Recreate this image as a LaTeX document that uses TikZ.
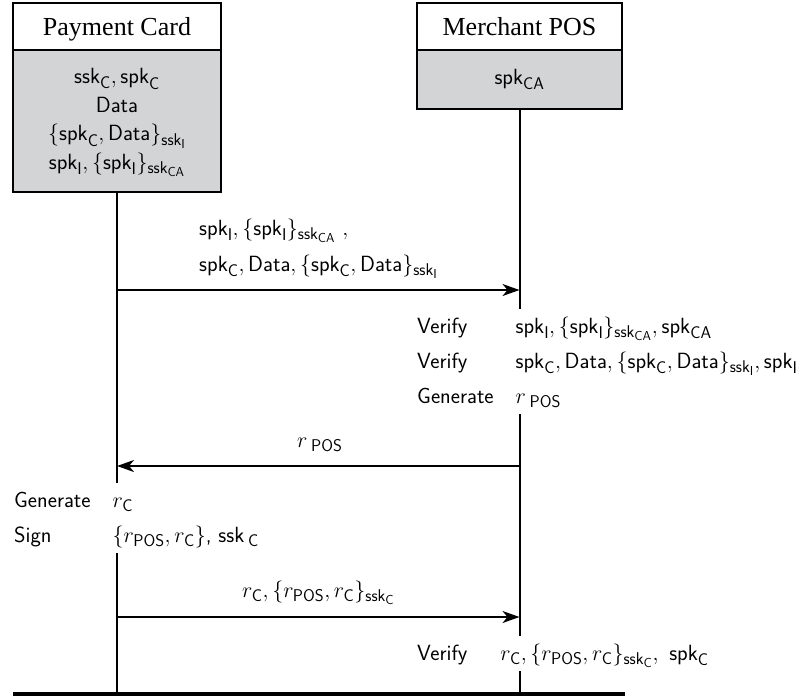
\documentclass[tikz,border=0pt]{standalone}
\usepackage{fix-cm}
\usepackage{amsmath}
\usepackage{fontspec}
\newfontfamily\titlefont{Liberation Serif}
\usepackage{xcolor}
\usepackage{tikz}
\usetikzlibrary{positioning,arrows.meta}
\definecolor{keygrey}{RGB}{211,212,214}
\DeclareMathSizes{22}{22}{17}{13}
\newcommand{\spkof}[1]{\mathsf{spk}_{\mathsf{#1}}}
\newcommand{\sskof}[1]{\mathsf{ssk}_{\mathsf{#1}}}
\newcommand{\rof}[1]{r_{\mathsf{#1}}}
\newcommand{\bigsf}{\sffamily\fontsize{22}{35}\selectfont}

\begin{document}
\begin{tikzpicture}[x=1pt,y=-1pt,
    titlebox/.style={draw, line width=1.5pt, fill=white, minimum height=47pt, text height=18pt, text depth=0pt, inner sep=0pt, outer sep=0pt, font=\titlefont\fontsize{26}{30}\selectfont},
    keybox/.style={draw, line width=1.5pt, fill=keygrey, inner sep=0pt, outer sep=0pt, font=\sffamily\fontsize{22}{28.5}\selectfont},
    lifeline/.style={line width=2pt},
    msg/.style={line width=1.8pt, -{Stealth[length=17pt,width=12pt,inset=5pt]}},
    msgtext/.style={inner sep=0pt, font=\bigsf},
    textblock/.style={fill=white, inner xsep=2pt, inner ysep=0pt, font=\bigsf},]
            \useasboundingbox (0,0) rectangle (800,697);
            %Nodes
            \node[titlebox, minimum width=208pt](cardtitle) at (117,26.5){Payment Card};
            \node[keybox, minimum width=208pt, minimum height=142pt](cardkeys)[below=0pt of cardtitle]{\begin{tabular}{@{}c@{}}$\sskof{C}, \spkof{C}$\\ Data\\ $\{\spkof{C}, \mathsf{Data}\}_{\sskof{I}}$\\ $\spkof{I}, \{\spkof{I}\}_{\sskof{CA}}$\end{tabular}};
            \node[titlebox, minimum width=205pt](postitle) at (519.5,26.5){Merchant POS};
            \node[keybox, minimum width=205pt, minimum height=59pt](poskeys)[below=0pt of postitle]{$\spkof{CA}$};
            \coordinate (endleft) at (13,694);
            \coordinate (endright) at (625,694);

            %Lines
            \draw[lifeline](cardkeys.south)--(cardkeys.south |- endleft);
            \draw[lifeline](poskeys.south)--(poskeys.south |- endleft);
            \draw[line width=4pt](endleft)--(endright);
            \draw[msg](cardkeys.south |- 0,290)--(poskeys.south |- 0,290);
            \draw[msg](poskeys.south |- 0,466)--(cardkeys.south |- 0,466);
            \draw[msg](cardkeys.south |- 0,617)--(poskeys.south |- 0,617);

            %Labels
            \node[msgtext, anchor=base west](certs_msg) at (199,235){$\spkof{I}, \{\spkof{I}\}_{\sskof{CA}}\ ,$};
            \node[msgtext, anchor=base west](data_msg) at (199,271){$\spkof{C}, \mathsf{Data}, \{\spkof{C}, \mathsf{Data}\}_{\sskof{I}}$};
            \node[msgtext, anchor=base west](nonce_msg) at (297,447){$r\,_{\mathsf{POS}}$};
            \node[msgtext, anchor=base west](sig_msg) at (242,597){$\rof{C}, \{\rof{POS}, \rof{C}\}_{\sskof{C}}$};
            \node[textblock, anchor=base west](pos_check) at (415,333){\begin{tabular}[t]{@{}l@{\hspace{22pt}}l@{}}Verify & $\spkof{I}, \{\spkof{I}\}_{\sskof{CA}}, \spkof{CA}$\\ Verify & $\spkof{C}, \mathsf{Data}, \{\spkof{C}, \mathsf{Data}\}_{\sskof{I}}, \spkof{I}$\\ Generate & $r\,_{\mathsf{POS}}$\end{tabular}};
            \node[textblock, anchor=base west](card_sign) at (12,507){\begin{tabular}[t]{@{}l@{\hspace{22pt}}l@{}}Generate & $\rof{C}$\\ Sign & $\{\rof{POS}, \rof{C}\}$, $\mathsf{ssk}\,_{\mathsf{C}}$\end{tabular}};
            \node[textblock, anchor=base west](pos_final) at (415,660){\begin{tabular}[t]{@{}l@{\hspace{33pt}}l@{}}Verify & $\rof{C}, \{\rof{POS}, \rof{C}\}_{\sskof{C}},\ \spkof{C}$\end{tabular}};

        \end{tikzpicture}
\end{document}
